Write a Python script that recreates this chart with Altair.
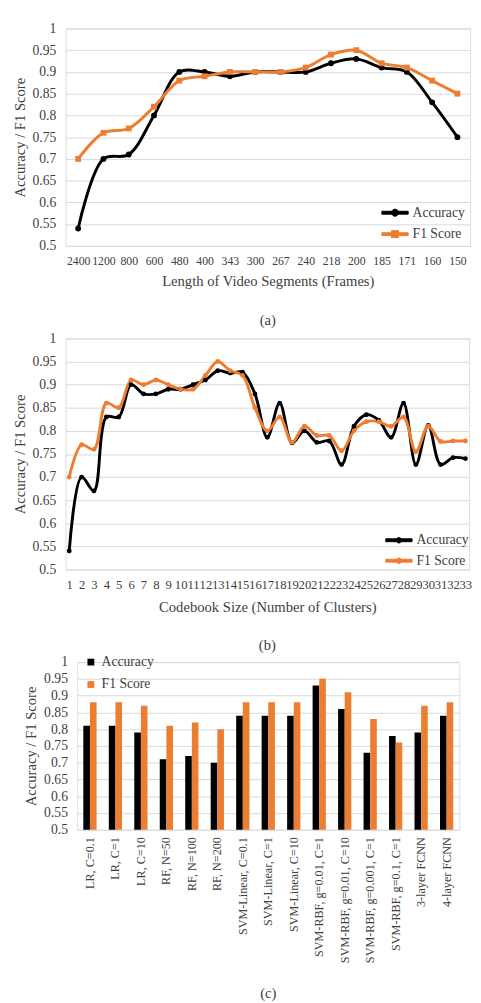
import math
import altair as alt
import pandas as pd

FONT = "Liberation Serif"
TEXT = "#404040"
GRID = "#D9D9D9"
BLACK = "#000000"
ORANGE = "#ED7D31"
SERIES = ["Accuracy", "F1 Score"]
Y_TICKS = [0.5, 0.55, 0.6, 0.65, 0.7, 0.75, 0.8, 0.85, 0.9, 0.95, 1.0]

# ---- (a) length of video segments ----
seg_labels = ["2400", "1200", "800", "600", "480", "400", "343", "300",
              "267", "240", "218", "200", "185", "171", "160", "150"]
seg_acc = [0.54, 0.70, 0.71, 0.80, 0.90, 0.90, 0.89, 0.90,
           0.90, 0.90, 0.92, 0.93, 0.91, 0.90, 0.83, 0.75]
seg_f1 = [0.70, 0.76, 0.77, 0.82, 0.88, 0.89, 0.90, 0.90,
          0.90, 0.91, 0.94, 0.95, 0.92, 0.91, 0.88, 0.85]

# ---- (b) codebook size ----
cluster_labels = ["1", "2", "3", "4", "5", "6", "7", "8", "9", "10", "11",
                  "12", "13", "14", "15", "16", "17", "18", "19", "20", "21", "22",
                  "23", "24", "25", "26", "27", "28", "29", "30", "31", "32", "33"]
cluster_acc = [0.54, 0.70, 0.67, 0.83, 0.83, 0.90, 0.88, 0.88, 0.89, 0.89, 0.90,
               0.91, 0.93, 0.925, 0.927, 0.88, 0.786, 0.86, 0.774, 0.80, 0.775, 0.778,
               0.727, 0.81, 0.835, 0.823, 0.786, 0.86, 0.727, 0.812, 0.727, 0.742, 0.74]
cluster_f1 = [0.70, 0.77, 0.76, 0.86, 0.85, 0.91, 0.90, 0.91, 0.90, 0.89, 0.89,
              0.92, 0.95, 0.93, 0.92, 0.85, 0.80, 0.83, 0.775, 0.81, 0.79, 0.79,
              0.757, 0.80, 0.82, 0.82, 0.81, 0.83, 0.755, 0.81, 0.777, 0.778, 0.778]

# ---- (c) classifiers ----
models = ["LR, C=0.1", "LR, C=1", "LR, C=10", "RF, N=50", "RF, N=100", "RF, N=200",
          "SVM-Linear, C=0.1", "SVM-Linear, C=1", "SVM-Linear, C=10",
          "SVM-RBF, g=0.01, C=1", "SVM-RBF, g=0.01, C=10", "SVM-RBF, g=0.001, C=1",
          "SVM-RBF, g=0.1, C=1", "3-layer FCNN", "4-layer FCNN"]
model_acc = [0.81, 0.81, 0.79, 0.71, 0.72, 0.70, 0.84, 0.84, 0.84, 0.93, 0.86, 0.73, 0.78, 0.79, 0.84]
model_f1 = [0.88, 0.88, 0.87, 0.81, 0.82, 0.80, 0.88, 0.88, 0.88, 0.95, 0.91, 0.83, 0.76, 0.87, 0.88]


# legend glyphs: a thick line with a marker in the middle (polygons only)
def line_with_disc(r, half=3.0, w=0.33, k=20):
    pts = " ".join(
        f"{'M' if i == 0 else 'L'}{r * math.cos(2 * math.pi * i / k):.3f},{r * math.sin(2 * math.pi * i / k):.3f}"
        for i in range(k))
    return f"M{-half},{-w}L{half},{-w}L{half},{w}L{-half},{w}Z {pts}Z"


def line_with_square(r, half=3.0, w=0.33):
    return f"M{-half},{-w}L{half},{-w}L{half},{w}L{-half},{w}Z M{-r},{-r}L{r},{-r}L{r},{r}L{-r},{r}Z"


LEG_A = [line_with_disc(0.8), line_with_square(0.8)]
LEG_B = line_with_disc(0.62)

color_scale = alt.Scale(domain=SERIES, range=[BLACK, ORANGE])


def y_enc():
    return alt.Y(
        "value:Q",
        scale=alt.Scale(domain=[0.5, 1.0], zero=False, nice=False),
        axis=alt.Axis(values=Y_TICKS, format="~g", title="Accuracy / F1 Score",
                      domain=False, ticks=False, grid=True, gridColor=GRID, gridWidth=1,
                      labelFont=FONT, labelFontSize=14, labelColor=TEXT, labelPadding=10,
                      titleFont=FONT, titleFontSize=15, titleFontWeight="normal",
                      titleColor=TEXT, titlePadding=5),
    )


def x_enc(cats, pad, xtitle, label_size):
    return alt.X("cat:N", sort=list(cats), scale=alt.Scale(type="point", padding=pad),
                 axis=alt.Axis(title=xtitle, domain=False, ticks=False, grid=False, labelAngle=0,
                               labelOverlap=False, labelFont=FONT, labelFontSize=label_size,
                               labelColor=TEXT, labelPadding=10, titleFont=FONT, titleFontSize=15,
                               titleFontWeight="normal", titleColor=TEXT, titlePadding=8))


def panel_title(txt, offset):
    return alt.TitleParams(txt, orient="bottom", anchor="middle", font=FONT, fontSize=15,
                           fontWeight="normal", color=TEXT, offset=offset)


def long_df(cats, acc, f1):
    n = len(cats)
    return pd.DataFrame({
        "cat": list(cats) * 2,
        "value": list(acc) + list(f1),
        "series": ["Accuracy"] * n + ["F1 Score"] * n,
    })


def line_legend(lx, ly, row_pad, path=None):
    props = dict(title=None, orient="none", legendX=lx, legendY=ly,
                 direction="vertical", symbolSize=81, symbolStrokeWidth=1,
                 labelFont=FONT, labelFontSize=14, labelColor=TEXT, labelOffset=11,
                 rowPadding=row_pad, padding=0)
    if path is not None:
        props["symbolType"] = path
    return alt.Legend(**props)


# ---- panel (a): layered lines + circle / square markers ----
df_a = long_df(seg_labels, seg_acc, seg_f1)
base_a = alt.Chart(df_a).encode(
    x=x_enc(seg_labels, 0.5, "Length of Video Segments (Frames)", 12), y=y_enc())
leg_a = line_legend(331, 182, 8)
col_a = alt.Color("series:N", scale=color_scale, legend=leg_a)
layers_a = []
for s, shp in zip(SERIES, ["circle", "square"]):
    sub = base_a.transform_filter(alt.datum.series == s)
    layers_a.append(sub.mark_line(strokeWidth=3, interpolate="catmull-rom").encode(color=col_a))
    layers_a.append(sub.mark_point(filled=True, opacity=1, shape=shp, size=36).encode(color=col_a))
legend_layer = base_a.transform_filter("false").mark_point(filled=True, opacity=1).encode(
    color=col_a,
    shape=alt.Shape("series:N", scale=alt.Scale(domain=SERIES, range=LEG_A), legend=leg_a),
)
panel_a = alt.layer(*layers_a, legend_layer).properties(
    width=415, height=223, title=panel_title("(a)", 25))

# ---- panel (b): line chart with point overlay ----
df_b = long_df(cluster_labels, cluster_acc, cluster_f1)
panel_b = alt.Chart(df_b).mark_line(
    strokeWidth=3, interpolate="catmull-rom",
    point=alt.OverlayMarkDef(filled=True, size=25, opacity=1),
).encode(
    x=x_enc(cluster_labels, 0.3, "Codebook Size (Number of Clusters)", 13),
    y=y_enc(),
    color=alt.Color("series:N", scale=color_scale, legend=line_legend(335, 200, 7, LEG_B)),
).properties(width=414, height=237, title=panel_title("(b)", 25))

# ---- panel (c): grouped bars ----
n_m = len(models)
df_c = pd.DataFrame({
    "model": models * 2,
    "value": model_acc + model_f1,
    "series": ["Accuracy"] * n_m + ["F1 Score"] * n_m,
})
panel_c = alt.Chart(df_c).mark_bar(clip=True).encode(
    x=alt.X("model:N", sort=models, scale=alt.Scale(paddingInner=0.48, paddingOuter=0.24),
            axis=alt.Axis(title=None, labelAngle=270, labelAlign="right", labelBaseline="middle",
                          domain=False, ticks=False, grid=False, labelFont=FONT, labelFontSize=12.5,
                          labelColor=TEXT, labelPadding=7, labelOverlap=False)),
    xOffset=alt.XOffset("series:N", sort=SERIES, scale=alt.Scale(paddingInner=0, paddingOuter=0)),
    y=y_enc(),
    color=alt.Color("series:N", scale=color_scale,
                    legend=alt.Legend(title=None, orient="none", legendX=7, legendY=-7,
                                      direction="vertical", symbolType="square", symbolSize=49,
                                      symbolStrokeWidth=0, labelFont=FONT, labelFontSize=14,
                                      labelColor=TEXT, labelOffset=4, rowPadding=9, padding=0)),
).properties(width=392, height=172, title=panel_title("(c)", 24))

spacer = alt.Chart(pd.DataFrame({"v": [0]})).mark_text(text="", opacity=0).encode(
    x=alt.value(0), y=alt.value(0)
).properties(width=12, height=10, view=alt.ViewBackground(strokeWidth=0, stroke="transparent"))

row_c = alt.hconcat(spacer, panel_c, spacing=0, bounds="flush").resolve_scale(
    color="independent").resolve_legend(color="independent")

chart = alt.vconcat(
    panel_a, panel_b, row_c, spacing=95, bounds="flush"
).resolve_scale(
    color="independent", shape="independent"
).resolve_legend(
    color="independent", shape="independent"
).properties(
    padding={"left": 4, "top": 0, "right": 0, "bottom": 0}
).configure_view(stroke="transparent").configure(background="white")

chart.save("out.html", embed_options={"renderer": "svg", "actions": False})
